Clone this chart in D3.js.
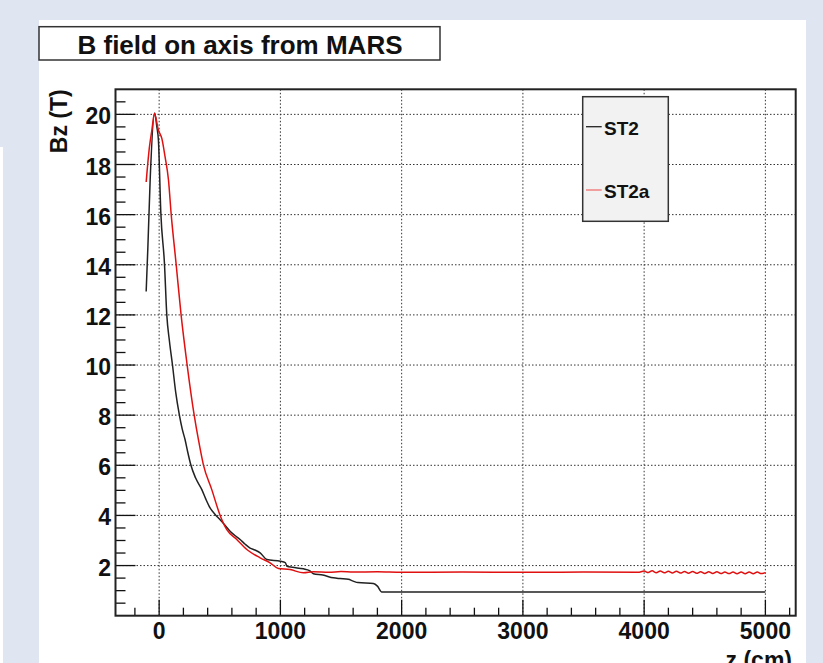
<!DOCTYPE html>
<meta charset="utf-8">
<title>B field on axis from MARS</title>
<head>
  <script src="https://d3js.org/d3.v7.min.js"></script>
  <style>
    body { margin: 0; background: #dfe6f1; }
    text { font-family: "Liberation Sans", Arial, Helvetica, sans-serif; font-weight: bold; fill: #111; }
  </style>
</head>
<body>
  <div id="viz"></div>
  <script>
    // ST2 (black)
    var st2Z = [-107, -93, -74, -37, -19, -6, 14, 44, 63, 85, 110, 137, 167, 190, 214, 237, 261, 300, 352, 385, 420, 460, 503, 545, 585, 625, 668, 710, 750, 790, 833, 888, 1000, 1040, 1055, 1100, 1190, 1240, 1272, 1350, 1437, 1492, 1560, 1600, 1640, 1767, 1800, 1836, 5000];
    var st2B = [12.93, 14.7, 17.4, 20.05, 19.5, 18.97, 16.06, 14.03, 12.0, 10.95, 10.0, 8.9, 8.0, 7.45, 7.02, 6.5, 6.02, 5.5, 5.03, 4.65, 4.30, 4.05, 3.83, 3.6, 3.37, 3.2, 3.04, 2.85, 2.70, 2.62, 2.51, 2.24, 2.17, 2.12, 1.97, 1.93, 1.87, 1.80, 1.67, 1.62, 1.51, 1.48, 1.45, 1.38, 1.32, 1.28, 1.18, 0.95, 0.95];

    // ST2a (red)
    var st2aZ = [-107, -80, -60, -39, -6, 22, 49, 77, 99, 140, 181, 231, 289, 324, 365, 434, 503, 558, 640, 723, 833, 915, 984, 1080, 1190, 1272, 1400, 1500, 1600, 1800, 2000, 2500, 3000, 3500, 3950,
      4000, 4033, 4066, 4100, 4133, 4166, 4200, 4233, 4266, 4300, 4333, 4366, 4400, 4433, 4466, 4500, 4533, 4566, 4600, 4633, 4666, 4700, 4733, 4766, 4800, 4833, 4866, 4900, 4933, 4966, 5000];
    var st2aB = [17.3, 18.7, 19.37, 20.03, 19.37, 19.04, 18.3, 17.38, 16.03, 14.03, 12.0, 10.0, 8.0, 7.02, 6.02, 5.03, 4.0, 3.43, 3.04, 2.64, 2.31, 2.11, 1.88, 1.84, 1.71, 1.75, 1.73, 1.76, 1.74, 1.75, 1.73, 1.74, 1.73, 1.74, 1.73,
      1.78, 1.72, 1.79, 1.71, 1.78, 1.71, 1.77, 1.70, 1.77, 1.70, 1.76, 1.69, 1.76, 1.69, 1.75, 1.68, 1.75, 1.68, 1.75, 1.68, 1.74, 1.68, 1.74, 1.67, 1.74, 1.67, 1.74, 1.67, 1.74, 1.68, 1.72];

    var xMajor = [0, 1000, 2000, 3000, 4000, 5000];
    var yMajor = [2, 4, 6, 8, 10, 12, 14, 16, 18, 20];
    var xDomain = [-360, 5250];
    var yDomain = [0, 21];

    var width = 823, height = 663;
    var frame = { left: 115.5, right: 795.7, top: 89.3, bottom: 615.7 };

    var svg = d3.select("#viz").append("svg")
      .attr("width", width)
      .attr("height", height);

    // canvas pieces
    svg.append("rect").attr("x", 0).attr("y", 147).attr("width", 3).attr("height", height - 147).attr("fill", "#fff");
    svg.append("rect").attr("x", 39).attr("y", 20).attr("width", 767).attr("height", height - 20).attr("fill", "#fff");

    var x = d3.scaleLinear().domain(xDomain).range([frame.left, frame.right]);
    var y = d3.scaleLinear().domain(yDomain).range([frame.bottom, frame.top]);

    // grid
    var grid = svg.append("g").attr("stroke", "#333").attr("stroke-width", 1).attr("stroke-dasharray", "1.5,2");
    grid.selectAll("line.gx").data(xMajor).enter().append("line")
      .attr("x1", function(d) { return x(d); }).attr("x2", function(d) { return x(d); })
      .attr("y1", frame.top).attr("y2", frame.bottom);
    grid.selectAll("line.gy").data(yMajor).enter().append("line")
      .attr("y1", function(d) { return y(d); }).attr("y2", function(d) { return y(d); })
      .attr("x1", frame.left).attr("x2", frame.right);

    // ticks
    var xMinor = d3.range(-200, 5201, 200).filter(function(d) { return d % 1000 !== 0; });
    var yMinor = d3.range(0.5, 21, 0.5).filter(function(d) { return d % 2 !== 0; });
    var ticks = svg.append("g").attr("stroke", "#111").attr("stroke-width", 1.3);
    ticks.selectAll("line.xt").data(xMajor.concat(xMinor)).enter().append("line")
      .attr("x1", function(d) { return x(d); }).attr("x2", function(d) { return x(d); })
      .attr("y1", frame.bottom)
      .attr("y2", function(d) { return frame.bottom - (d % 1000 === 0 ? 16 : 8); });
    ticks.selectAll("line.yt").data(yMajor.concat(yMinor)).enter().append("line")
      .attr("y1", function(d) { return y(d); }).attr("y2", function(d) { return y(d); })
      .attr("x1", frame.left)
      .attr("x2", function(d) { return frame.left + (d % 2 === 0 ? 20 : 10); });

    // curves
    var line = d3.line()
      .curve(d3.curveMonotoneX)
      .x(function(d) { return x(d[0]); })
      .y(function(d) { return y(d[1]); });
    var st2 = d3.zip(st2Z, st2B);
    var st2a = d3.zip(st2aZ, st2aB);
    svg.append("path").datum(st2).attr("d", line).attr("fill", "none").attr("stroke", "#222").attr("stroke-width", 1.5);
    svg.append("path").datum(st2a).attr("d", line).attr("fill", "none").attr("stroke", "#e01010").attr("stroke-width", 1.5);

    // frame
    svg.append("rect")
      .attr("x", frame.left).attr("y", frame.top)
      .attr("width", frame.right - frame.left).attr("height", frame.bottom - frame.top)
      .attr("fill", "none").attr("stroke", "#222").attr("stroke-width", 2);

    // tick labels
    svg.selectAll("text.xl").data(xMajor).enter().append("text")
      .attr("x", function(d) { return x(d); }).attr("y", 639)
      .attr("text-anchor", "middle").attr("font-size", 23)
      .text(function(d) { return d; });
    svg.selectAll("text.yl").data(yMajor).enter().append("text")
      .attr("x", 111).attr("y", function(d) { return y(d) + 10; })
      .attr("text-anchor", "end").attr("font-size", 23)
      .text(function(d) { return d; });

    // axis titles
    svg.append("text")
      .attr("transform", "translate(66.5," + frame.top + ") rotate(-90)")
      .attr("text-anchor", "end").attr("font-size", 23)
      .text("Bz (T)");
    svg.append("text")
      .attr("x", 792).attr("y", 668)
      .attr("text-anchor", "end").attr("font-size", 23)
      .text("z (cm)");

    // title box
    svg.append("rect")
      .attr("x", 39).attr("y", 26.7).attr("width", 401).attr("height", 33.3)
      .attr("fill", "#fff").attr("stroke", "#333").attr("stroke-width", 1.5);
    svg.append("text")
      .attr("x", 240).attr("y", 54)
      .attr("text-anchor", "middle").attr("font-size", 26)
      .text("B field on axis from MARS");

    // legend
    var legend = svg.append("g");
    legend.append("rect")
      .attr("x", 582.7).attr("y", 96.7).attr("width", 85.6).attr("height", 124.6)
      .attr("fill", "#f2f2f2").attr("stroke", "#333").attr("stroke-width", 1.5);
    var entries = [["ST2", "#222", 126.7], ["ST2a", "#f07070", 190]];
    entries.forEach(function(e) {
      legend.append("line")
        .attr("x1", 586).attr("x2", 601.7).attr("y1", e[2]).attr("y2", e[2])
        .attr("stroke", e[1]).attr("stroke-width", 1.3);
      legend.append("text")
        .attr("x", 604).attr("y", e[2] + 8)
        .attr("font-size", 19)
        .text(e[0]);
    });
  </script>
</body>
